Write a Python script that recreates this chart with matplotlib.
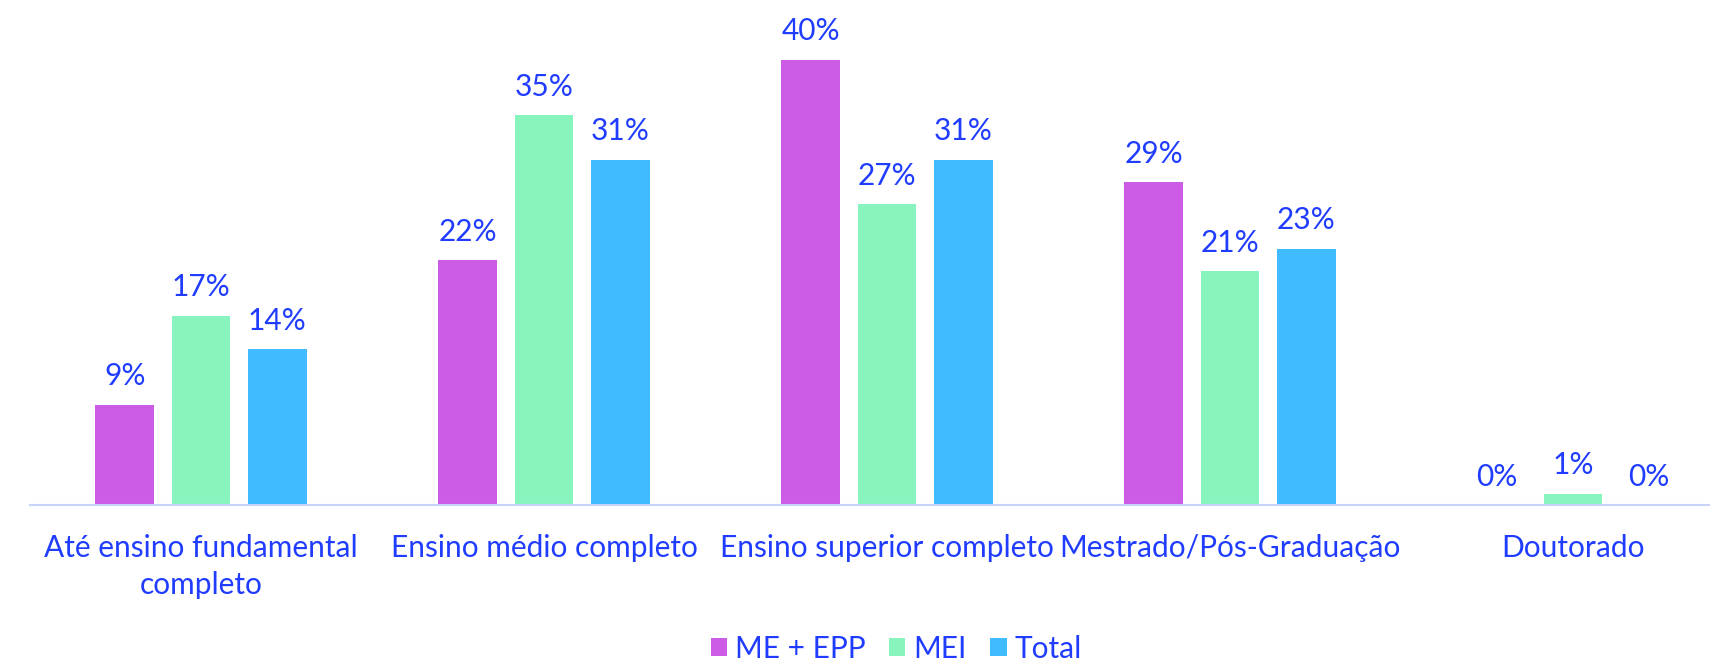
import numpy as np
import matplotlib.pyplot as plt

categories = ["Até ensino fundamental\ncompleto", "Ensino médio completo",
              "Ensino superior completo", "Mestrado/Pós-Graduação", "Doutorado"]
series = ["ME + EPP", "MEI", "Total"]
me_epp = [9, 22, 40, 29, 0]
mei = [17, 35, 27, 21, 1]
total = [14, 31, 31, 23, 0]

colors = ["#CC5BE6", "#86F4BC", "#40BBFF"]
text_color = "#1F3CFF"

plt.rcParams['font.family'] = ['Lato', 'DejaVu Sans']

fig = plt.figure(figsize=(17.1, 6.62), dpi=100)
# axes runs a little past the right edge of the figure
ax = fig.add_axes([29.5 / 1710, 157 / 662, 1715 / 1710, 500 / 662])

x = np.arange(len(categories))
width = 0.172
offset = 0.222
for i, (vals, name) in enumerate(zip([me_epp, mei, total], series)):
    pos = x + (i - 1) * offset
    bars = ax.bar(pos, vals, width, color=colors[i], label=name)
    for p, v in zip(pos, vals):
        ax.text(p, v + 1.3, f"{v}%", ha='center', va='bottom',
                color=text_color, fontsize=21.5)

ax.set_xlim(-0.5, 4.5)
ax.set_ylim(0, 44.9)
ax.set_xticks(x)
ax.set_xticklabels(categories, color=text_color, fontsize=21.5, linespacing=1.4)
ax.tick_params(axis='x', length=0, pad=21)
ax.set_yticks([])
for s in ['top', 'right', 'left']:
    ax.spines[s].set_visible(False)
ax.spines['bottom'].set_color('#C9D4F6')
ax.spines['bottom'].set_linewidth(1.5)

leg = fig.legend(loc='center', bbox_to_anchor=(896 / 1710, 1 - 649 / 662), ncol=3,
                 frameon=False, fontsize=21.5, handlelength=0.55, handleheight=0.55,
                 handletextpad=0.25, columnspacing=0.8)
for t in leg.get_texts():
    t.set_color(text_color)

fig.savefig("out.png", dpi=100)
